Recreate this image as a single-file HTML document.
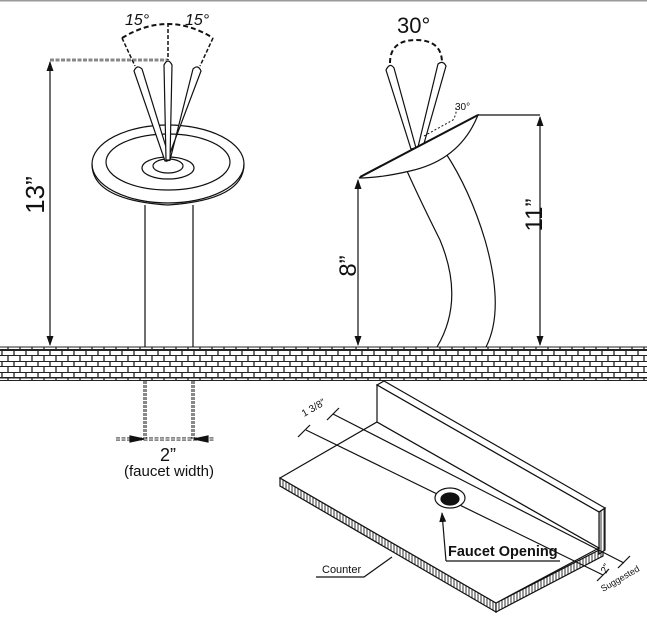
<!DOCTYPE html>
<html><head><meta charset="utf-8"><style>
html,body{margin:0;padding:0;background:#fff;}
svg{display:block;font-family:"Liberation Sans",sans-serif;}
</style></head><body>
<svg width="647" height="630" viewBox="0 0 647 630" xmlns="http://www.w3.org/2000/svg">
<defs>
<pattern id="brick" x="0" y="350" width="12" height="11" patternUnits="userSpaceOnUse">
<rect width="12" height="11" fill="#fff"/>
<line x1="0" y1="0.5" x2="12" y2="0.5" stroke="#222" stroke-width="1"/>
<line x1="0" y1="5.5" x2="12" y2="5.5" stroke="#222" stroke-width="1"/>
<line x1="2" y1="0" x2="2" y2="5.5" stroke="#222" stroke-width="1.3"/>
<line x1="8" y1="5.5" x2="8" y2="11" stroke="#222" stroke-width="1.3"/>
</pattern>
<pattern id="hatch" width="3" height="3" patternUnits="userSpaceOnUse">
<rect width="3" height="3" fill="#fff"/><line x1="1" y1="0" x2="1" y2="3" stroke="#333" stroke-width="1"/>
</pattern>
<marker id="ar" markerWidth="10" markerHeight="8" refX="9" refY="4" orient="auto-start-reverse" markerUnits="userSpaceOnUse">
<path d="M0,0.5 L10,4 L0,7.5 Z" fill="#111"/></marker>
</defs>
<rect x="0" y="0" width="647" height="1.5" fill="#999"/>
<rect x="0" y="347" width="647" height="33" fill="url(#brick)"/>
<line x1="0" y1="347" x2="647" y2="347" stroke="#222"/>
<line x1="0" y1="349.5" x2="647" y2="349.5" stroke="#222"/>
<line x1="0" y1="378" x2="647" y2="378" stroke="#222"/>
<line x1="0" y1="380.5" x2="647" y2="380.5" stroke="#222"/>

<g fill="none" stroke="#111" stroke-width="1.2">
<line x1="50" y1="62" x2="50" y2="345" marker-start="url(#ar)" marker-end="url(#ar)"/>
<line x1="50" y1="60" x2="168" y2="60" stroke-dasharray="4,1.5" stroke-width="2.5"/>
<line x1="50" y1="60" x2="168" y2="60" stroke="#fff" stroke-width="1" stroke-dasharray="4,1.5"/>
<path d="M122,38 Q168,10 213,38" stroke-dasharray="5,3" stroke-width="2"/>
<line x1="168" y1="23" x2="168" y2="60" stroke-dasharray="4,2" stroke-width="1.5"/>
<line x1="122" y1="38" x2="135" y2="66" stroke-dasharray="4,2" stroke-width="1.5"/>
<line x1="213" y1="38" x2="200" y2="66" stroke-dasharray="4,2" stroke-width="1.5"/>
<ellipse cx="168" cy="164" rx="76" ry="39" fill="#fff"/>
<path d="M92,164 Q92,200 168,205 Q244,200 244,164"/>
<ellipse cx="168" cy="162" rx="62" ry="28"/>
<ellipse cx="168" cy="168" rx="26" ry="11"/>
<ellipse cx="168" cy="166" rx="15" ry="7"/>
<path d="M134,71 Q137,64 142,69 L170,160 L165,161 Z" fill="#fff"/>
<path d="M201,71 Q198,64 193,69 L170,160 L167,161 Z" fill="#fff"/>
<path d="M164,65 Q168,57 172,65 L170,160 L166,160 Z" fill="#fff"/>
<line x1="145" y1="205" x2="145" y2="347"/>
<line x1="193" y1="205" x2="193" y2="347"/>

<path d="M390,63 Q390,40 416,40 Q442,40 442,63" stroke-dasharray="5,3" stroke-width="2"/>
<path d="M386,70 Q390,62 394,68 L416,148 L411,149 Z" fill="#fff"/>
<path d="M446,66 Q443,60 438,64 L418,147 L423,147 Z" fill="#fff"/>
<path d="M407,171 Q420,200 440,240 Q465,300 437,347"/>
<path d="M445,152 Q470,190 485,240 Q505,310 486,347"/>
<path d="M359,178 L478,115 Q460,160 410,171 Q380,178 359,178 Z" fill="#fff"/>
<line x1="360" y1="177" x2="478" y2="115" stroke-width="2"/>
<path d="M424,136 L453,120 Q458,112 455,106" stroke-dasharray="2,2" stroke-width="1"/>
<line x1="478" y1="115" x2="540" y2="115"/>
<line x1="540" y1="117" x2="540" y2="345" marker-start="url(#ar)" marker-end="url(#ar)"/>
<line x1="358" y1="180" x2="358" y2="345" marker-start="url(#ar)" marker-end="url(#ar)"/>

<line x1="116" y1="439" x2="215" y2="439" stroke-dasharray="4,1.5" stroke-width="3"/>
<line x1="116" y1="439" x2="215" y2="439" stroke="#fff" stroke-width="1.2" stroke-dasharray="4,1.5"/>
<line x1="145" y1="381" x2="145" y2="439" stroke-dasharray="3,1" stroke-width="3"/>
<line x1="145" y1="381" x2="145" y2="439" stroke="#fff" stroke-width="1" stroke-dasharray="3,1"/>
<line x1="193" y1="381" x2="193" y2="439" stroke-dasharray="3,1" stroke-width="3"/>
<line x1="193" y1="381" x2="193" y2="439" stroke="#fff" stroke-width="1" stroke-dasharray="3,1"/>
<path d="M130,436 L144,439 L130,442 Z" fill="#111"/>
<path d="M208,436 L194,439 L208,442 Z" fill="#111"/>

<polygon points="280,478 280,486 496,612 496,603" fill="url(#hatch)"/>
<polygon points="496,603 496,612 603,556 603,548" fill="url(#hatch)"/>
<polygon points="599,512 605,508 605,550 599,554" fill="url(#hatch)"/>
<polygon points="280,478 377,422 599,548 496,603" fill="#fff"/>
<polygon points="377,385 384,381 605,508 599,512" fill="#fff"/>
<polygon points="377,385 377,422 599,548 599,512" fill="#fff"/>
<line x1="306" y1="430" x2="603" y2="575"/>
<line x1="333" y1="414" x2="624" y2="563"/>
<line x1="298" y1="437" x2="310" y2="425"/>
<line x1="327" y1="420" x2="339" y2="408"/>
<line x1="597" y1="581" x2="609" y2="569"/>
<line x1="618" y1="568" x2="630" y2="556"/>
<ellipse cx="450" cy="498" rx="15" ry="10" fill="#fff"/>
<ellipse cx="450" cy="499" rx="9" ry="6" fill="#111"/>
<path d="M446,561 L442,513" marker-end="url(#ar)"/>
<path d="M446,561 L560,561"/>
<path d="M316,577 L364,577 L392,557"/>
</g>

<g fill="#111">
<text x="125" y="25" font-size="16" font-style="italic">15°</text>
<text x="185" y="25" font-size="16" font-style="italic">15°</text>
<text x="397" y="33" font-size="22">30°</text>
<text x="455" y="110" font-size="10">30°</text>
<text transform="translate(44,195) rotate(-90)" font-size="26" text-anchor="middle">13”</text>
<text transform="translate(542,215) rotate(-90)" font-size="24" text-anchor="middle">11”</text>
<text transform="translate(356,266) rotate(-90)" font-size="24" text-anchor="middle">8”</text>
<text x="168" y="461" font-size="18" text-anchor="middle">2”</text>
<text x="169" y="476" font-size="15" text-anchor="middle">(faucet width)</text>
<text transform="translate(304,417) rotate(-30)" font-size="10">1 3/8”</text>
<text x="448" y="556" font-size="14.5" font-weight="bold">Faucet Opening</text>
<text x="322" y="573" font-size="11">Counter</text>
<text transform="translate(606,574) rotate(-60)" font-size="10">2”</text>
<text transform="translate(603,592) rotate(-30)" font-size="9">Suggested</text>
</g>
</svg>
</body></html>
